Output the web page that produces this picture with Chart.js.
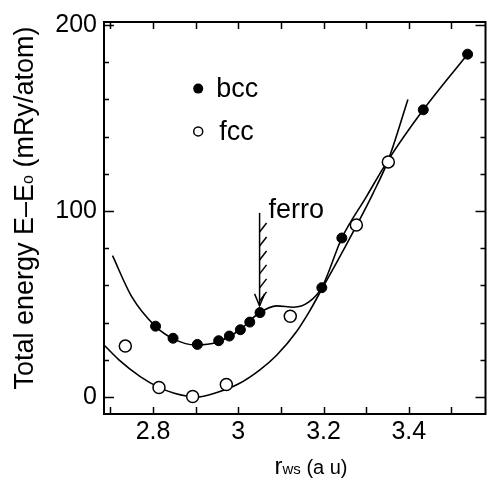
<!DOCTYPE html>
<html><head><meta charset="utf-8">
<script src="https://cdn.jsdelivr.net/npm/chart.js@4/dist/chart.umd.min.js"></script>
<style>html,body{margin:0;padding:0;background:#fff;overflow:hidden}#wrap{width:493px;height:482px;position:relative}</style>
</head><body><div id="wrap"><canvas id="c" width="493" height="482"></canvas></div>
<script>
// ---- data ----
const bccR = [2.806, 2.847, 2.904, 2.954, 2.979, 3.005, 3.027, 3.051, 3.196, 3.243, 3.434, 3.538];
const bccE = [38.1, 31.6, 28.3, 30.3, 32.8, 36.2, 40.3, 45.4, 58.8, 85.5, 154.4, 184.3];
const fccR = [2.735, 2.814, 2.893, 2.972, 3.122, 3.277, 3.352];
const fccE = [27.4, 5.1, 0.3, 6.8, 43.4, 92.5, 126.4];
// fitted curves
const bccCurveR = [2.705, 2.75, 2.806, 2.85, 2.9, 2.95, 3.0, 3.05, 3.09, 3.13, 3.165, 3.196, 3.243, 3.3, 3.352, 3.434, 3.538];
const bccCurveE = [76, 54, 38, 31, 28, 29.5, 35.5, 45.3, 49, 48.3, 51, 58.8, 85.5, 107.5, 127.5, 154.4, 184.3];
const fccCurveR = [2.685, 2.72, 2.77, 2.814, 2.85, 2.9, 2.95, 3.0, 3.05, 3.09, 3.136, 3.168, 3.196, 3.23, 3.256, 3.277, 3.315, 3.352, 3.398];
const fccCurveE = [28, 20, 11, 5.2, 2, 0, 2.5, 7, 14.5, 22.5, 35, 46.5, 58, 72, 83, 92, 109, 127.5, 160];
// ticks
const xTickValues = [2.8, 3.0, 3.2, 3.4];
const xTickLabels = ['2.8', '3', '3.2', '3.4'];
const xMinorTicks = [2.7, 2.8, 2.9, 3.0, 3.1, 3.2, 3.3, 3.4, 3.5];
const yTickValues = [0, 100, 200];
const yTickLabels = ['0', '100', '200'];
const yMinorTicks = [0, 20, 40, 60, 80, 100, 120, 140, 160, 180, 200];
const seriesNames = ['bcc', 'fcc'];
const ferroLabel = 'ferro';
const ferroR = [3.05];
const ferroE = [99, 49]; // top of hatched arrow, tip
const legendR = [2.906];
const legendE = [165.8, 142.8];

const FONT = '"Liberation Sans", Arial, Helvetica, sans-serif';

const xy = (xs, ys) => xs.map((x, i) => ({x, y: ys[i]}));

const decor = {
  id: 'decor',
  afterDatasetsDraw(chart) {
    const ctx = chart.ctx, a = chart.chartArea;
    const xs = chart.scales.x, ys = chart.scales.y;
    ctx.save();
    ctx.strokeStyle = '#000'; ctx.fillStyle = '#000';
    // frame
    ctx.lineWidth = 2;
    ctx.strokeRect(a.left, a.top, a.right - a.left, a.bottom - a.top);
    ctx.lineWidth = 1.5;
    // y ticks (left & right, inward)
    yMinorTicks.forEach(v => {
      const p = Math.round(ys.getPixelForValue(v)) + 0.5;
      const major = yTickValues.includes(v);
      const L = major ? 10 : 5;
      ctx.beginPath();
      ctx.moveTo(a.left, p); ctx.lineTo(a.left + L, p);
      ctx.moveTo(a.right, p); ctx.lineTo(a.right - L, p);
      ctx.stroke();
    });
    // x ticks (bottom & top, inward)
    xMinorTicks.forEach(v => {
      const p = Math.round(xs.getPixelForValue(v)) + 0.5;
      ctx.beginPath();
      ctx.moveTo(p, a.bottom); ctx.lineTo(p, a.bottom - 7);
      ctx.moveTo(p, a.top); ctx.lineTo(p, a.top + 7);
      ctx.stroke();
    });
    // legend
    const lx = xs.getPixelForValue(legendR[0]);
    const ly1 = ys.getPixelForValue(legendE[0]);
    const ly2 = ys.getPixelForValue(legendE[1]);
    ctx.beginPath(); ctx.arc(lx, ly1, 5, 0, Math.PI * 2); ctx.fill();
    ctx.beginPath(); ctx.arc(lx, ly2, 4.5, 0, Math.PI * 2);
    ctx.fillStyle = '#fff'; ctx.fill(); ctx.lineWidth = 1.5; ctx.stroke();
    ctx.fillStyle = '#000';
    ctx.font = '27px ' + FONT;
    ctx.textBaseline = 'middle'; ctx.textAlign = 'left';
    ctx.fillText(seriesNames[0], lx + 18, ly1 + 1);
    ctx.fillText(seriesNames[1], lx + 21, ly2 + 1);
    // ferro hatched arrow
    const fx = xs.getPixelForValue(ferroR[0]);
    const fTop = ys.getPixelForValue(ferroE[0]);
    const fTip = ys.getPixelForValue(ferroE[1]);
    ctx.lineWidth = 1.5;
    ctx.beginPath(); ctx.moveTo(fx, fTop); ctx.lineTo(fx, fTip); ctx.stroke();
    ctx.beginPath();
    ctx.moveTo(fx - 5, fTip - 12); ctx.lineTo(fx, fTip); ctx.lineTo(fx + 5, fTip - 12);
    ctx.stroke();
    const len = fTip - fTop;
    [0.12, 0.27, 0.42, 0.57, 0.72, 0.86].forEach(f => {
      const yy = fTop + len * f + 8;
      ctx.beginPath(); ctx.moveTo(fx, yy); ctx.lineTo(fx + 7, yy - 9); ctx.stroke();
    });
    ctx.font = '27px ' + FONT;
    ctx.textBaseline = 'alphabetic';
    ctx.fillText(ferroLabel, fx + 9, fTop + 5);
    // x axis title: r_ws (a u)
    ctx.textBaseline = 'alphabetic';
    const parts = [['r', '24px '], ['ws', '15px '], [' (a u)', '20px ']];
    let total = 0;
    parts.forEach(p => { ctx.font = p[1] + FONT; total += ctx.measureText(p[0]).width; });
    let cx = 311 - total / 2;
    parts.forEach(p => { ctx.font = p[1] + FONT; ctx.fillText(p[0], cx, 474); cx += ctx.measureText(p[0]).width; });
    // y axis title
    ctx.translate(33, 208);
    ctx.rotate(-Math.PI / 2);
    const yparts = [['Total energy E\u2013E', '27px '], ['o', '16px '], [' (mRy/atom)', '27px ']];
    total = 0;
    yparts.forEach(p => { ctx.font = p[1] + FONT; total += ctx.measureText(p[0]).width; });
    cx = -total / 2;
    yparts.forEach(p => { ctx.font = p[1] + FONT; ctx.fillText(p[0], cx, 0); cx += ctx.measureText(p[0]).width; });
    ctx.restore();
  }
};

new Chart(document.getElementById('c'), {
  type: 'scatter',
  data: {
    datasets: [
      { label: 'bcc', data: xy(bccR, bccE), order: 0, pointRadius: 5, pointBackgroundColor: '#000', pointBorderColor: '#000', pointBorderWidth: 1, showLine: false },
      { label: 'fcc', data: xy(fccR, fccE), order: 1, pointRadius: 6, pointBackgroundColor: '#fff', pointBorderColor: '#000', pointBorderWidth: 1.5, showLine: false },
      { label: 'bcc curve', data: xy(bccCurveR, bccCurveE), order: 2, pointRadius: 0, showLine: true, borderColor: '#000', borderWidth: 1.6, cubicInterpolationMode: 'monotone', fill: false },
      { label: 'fcc curve', data: xy(fccCurveR, fccCurveE), order: 3, pointRadius: 0, showLine: true, borderColor: '#000', borderWidth: 1.6, cubicInterpolationMode: 'monotone', fill: false }
    ]
  },
  options: {
    responsive: false, animation: false, devicePixelRatio: 1,
    layout: { padding: { top: 20, right: 1, left: 0, bottom: 0 } },
    plugins: { legend: { display: false }, tooltip: { enabled: false } },
    scales: {
      x: {
        type: 'linear', min: 2.685, max: 3.58,
        grid: { display: false, drawTicks: false }, border: { display: false },
        afterBuildTicks: s => { s.ticks = xTickValues.map(v => ({ value: v })); },
        afterFit: s => { s.height = 68; },
        ticks: { color: '#000', padding: 3, maxRotation: 0, autoSkip: false, font: { family: FONT, size: 25 },
          callback: (v) => { const i = xTickValues.findIndex(t => Math.abs(t - v) < 1e-6); return i >= 0 ? xTickLabels[i] : ''; } }
      },
      y: {
        type: 'linear', min: -9.1, max: 201.6,
        grid: { display: false, drawTicks: false }, border: { display: false },
        afterBuildTicks: s => { s.ticks = yTickValues.map(v => ({ value: v })); },
        afterFit: s => { s.width = 104; },
        ticks: { color: '#000', padding: 7, autoSkip: false, font: { family: FONT, size: 25 },
          callback: (v) => { const i = yTickValues.indexOf(v); return i >= 0 ? yTickLabels[i] : ''; } }
      }
    }
  },
  plugins: [decor]
});
</script></body></html>
